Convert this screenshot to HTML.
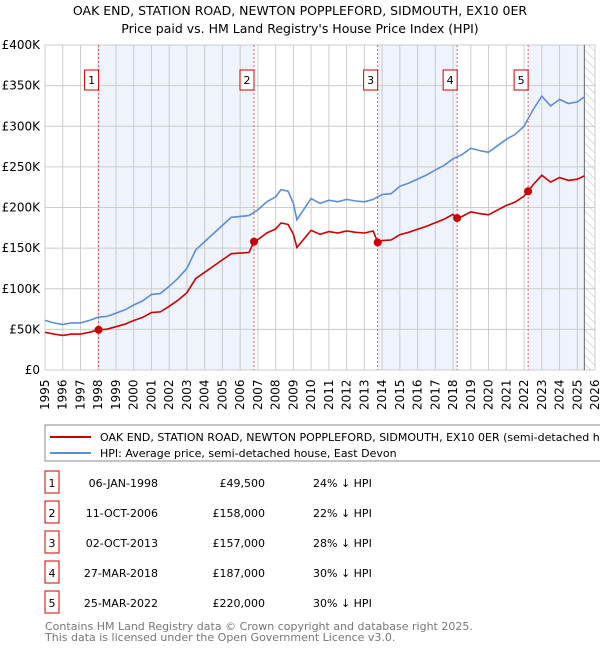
<!DOCTYPE html>
<html><head><meta charset="utf-8"><style>
body{margin:0;background:#fff;font-family:"DejaVu Sans","Liberation Sans",sans-serif;}
svg text{font-family:"DejaVu Sans","Liberation Sans",sans-serif;}
</style></head><body>
<svg id="c" width="600" height="650" viewBox="0 0 600 650" xmlns="http://www.w3.org/2000/svg">
<defs><pattern id="hatch" width="6" height="6" patternUnits="userSpaceOnUse" patternTransform="rotate(-45)"><line x1="0" y1="0" x2="0" y2="6" stroke="#bbb" stroke-width="1"/></pattern></defs>
<text x="300" y="15" text-anchor="middle" font-size="12.5">OAK END, STATION ROAD, NEWTON POPPLEFORD, SIDMOUTH, EX10 0ER</text>
<text x="300" y="33" text-anchor="middle" font-size="12.5">Price paid vs. HM Land Registry's House Price Index (HPI)</text>
<g id="plot"></g>
<rect x="45" y="425" width="570" height="36" fill="#fff" stroke="#888"/>
<line x1="50" y1="437" x2="91" y2="437" stroke="#cc0000" stroke-width="2"/>
<text x="100" y="441" font-size="11">OAK END, STATION ROAD, NEWTON POPPLEFORD, SIDMOUTH, EX10 0ER (semi-detached house)</text>
<line x1="50" y1="453" x2="91" y2="453" stroke="#5b8ed6" stroke-width="2"/>
<text x="100" y="457" font-size="11">HPI: Average price, semi-detached house, East Devon</text>
<g id="table"></g>
<text x="45" y="630" font-size="11" fill="#777">Contains HM Land Registry data © Crown copyright and database right 2025.</text>
<text x="45" y="641" font-size="11" fill="#777">This data is licensed under the Open Government Licence v3.0.</text>
</svg>
<script>
const hpiYears=[1995,1995.5,1996,1996.5,1997,1997.5,1998,1998.5,1999,1999.5,2000,2000.5,2001,2001.5,2002,2002.5,2003,2003.5,2004,2004.5,2005,2005.5,2006,2006.5,2007,2007.5,2008,2008.3,2008.7,2009,2009.2,2009.6,2010,2010.5,2011,2011.5,2012,2012.5,2013,2013.5,2014,2014.5,2015,2015.5,2016,2016.5,2017,2017.5,2018,2018.5,2019,2019.5,2020,2020.5,2021,2021.5,2022,2022.5,2023,2023.5,2024,2024.5,2025,2025.4];
const hpiValues=[61,58,56,58,58,61,65,66,70,74,80,85,93,94,103,113,125,148,158,168,178,188,189,190,197,207,213,222,220,205,185,198,211,205,209,207,210,208,207,210,216,217,226,230,235,240,246,252,260,265,273,270,268,276,284,290,300,320,337,325,333,328,330,336];
const saleDates=[1998.02,2006.78,2013.75,2018.23,2022.23];
const salePrices=[49.5,158,157,187,220];
const saleLabels=["1","2","3","4","5"];
const saleDateText=["06-JAN-1998","11-OCT-2006","02-OCT-2013","27-MAR-2018","25-MAR-2022"];
const salePriceText=["£49,500","£158,000","£157,000","£187,000","£220,000"];
const saleHpiText=["24% ↓ HPI","22% ↓ HPI","28% ↓ HPI","30% ↓ HPI","30% ↓ HPI"];
const yTicks=[0,50,100,150,200,250,300,350,400];
const yTickLabels=["£0","£50K","£100K","£150K","£200K","£250K","£300K","£350K","£400K"];
const xTicks=[1995,1996,1997,1998,1999,2000,2001,2002,2003,2004,2005,2006,2007,2008,2009,2010,2011,2012,2013,2014,2015,2016,2017,2018,2019,2020,2021,2022,2023,2024,2025,2026];
const dataEnd=2025.4;

const NS="http://www.w3.org/2000/svg";
const X0=45,X1=595,Y0=370,Y1=45;
const xs=y=>X0+(y-1995)/(2026-1995)*(X1-X0);
const ys=v=>Y0-v/400*(Y0-Y1);
const plot=document.getElementById('plot');
function mk(tag,attrs,parent){const e=document.createElementNS(NS,tag);for(const k in attrs)e.setAttribute(k,attrs[k]);(parent||plot).appendChild(e);return e;}
function hpiAt(t){for(let i=0;i<hpiYears.length-1;i++){if(t<=hpiYears[i+1]){const f=(t-hpiYears[i])/(hpiYears[i+1]-hpiYears[i]);return hpiValues[i]+f*(hpiValues[i+1]-hpiValues[i]);}}return hpiValues[hpiValues.length-1];}
// shaded bands
const bands=[[0,1],[2,3],[4,null]];
bands.forEach((b,i)=>{const a=xs(saleDates[b[0]]),e=b[1]===null?xs(dataEnd):xs(saleDates[b[1]]);
 const r=mk('rect',{x:a,y:Y1,width:e-a,height:Y0-Y1,fill:'#eef3fc'});
 
 });
// hatch
const h=mk('rect',{x:xs(dataEnd),y:Y1,width:X1-xs(dataEnd),height:Y0-Y1,fill:'url(#hatch)'});


// grid
yTicks.forEach((v,i)=>{const g=mk('line',{x1:X0,x2:X1,y1:ys(v),y2:ys(v),stroke:'#ccc'});
 
 
 const t=mk('text',{x:40,y:ys(v)+4,'text-anchor':'end','font-size':'12'});t.textContent=yTickLabels[i];
 
 });
xTicks.forEach(y=>{const g=mk('line',{x1:xs(y),x2:xs(y),y1:Y1,y2:Y0,stroke:'#ccc'});
 
 
 const t=mk('text',{x:0,y:0,'font-size':'12',transform:`translate(${xs(y)+4},410) rotate(-90)`});t.textContent=y;
 
 });
const ln=mk('line',{x1:xs(dataEnd),x2:xs(dataEnd),y1:Y1,y2:Y0,stroke:'#666'});


// sale vlines + labels
saleDates.forEach((d,i)=>{const l=mk('line',{x1:xs(d),x2:xs(d),y1:Y1,y2:Y0,stroke:'#e06060','stroke-dasharray':'2,2'});
 
 
 const r=mk('rect',{x:xs(d)-14,y:70,width:14,height:20,fill:'#fff',stroke:'#cc0000'});
 
 
 const t=mk('text',{x:xs(d)-7,y:84,'text-anchor':'middle','font-size':'11'});t.textContent=saleLabels[i];
 
 });
// hpi line
let p='';hpiYears.forEach((y,i)=>{p+=(i?'L':'M')+xs(y).toFixed(1)+','+ys(hpiValues[i]).toFixed(1);});
const hl=mk('path',{d:p,fill:'none',stroke:'#5b8ed6','stroke-width':1.6});


// price line: indexed from each sale
function factorAt(t){let k=0;for(let i=0;i<saleDates.length;i++)if(t>=saleDates[i])k=i;return salePrices[k]/hpiAt(saleDates[k]);}
const pts=[...hpiYears,...saleDates].sort((a,b)=>a-b);
let q='';pts.forEach((t,i)=>{q+=(i?'L':'M')+xs(t).toFixed(1)+','+ys(hpiAt(t)*factorAt(t)).toFixed(1);});
const pl=mk('path',{d:q,fill:'none',stroke:'#cc0000','stroke-width':1.6});


saleDates.forEach((d,i)=>{const c=mk('circle',{cx:xs(d),cy:ys(salePrices[i]),r:4,fill:'#cc0000'});
 
 });
// table
const tb=document.getElementById('table');
saleDates.forEach((d,i)=>{const y=483+i*30;
 const r=mk('rect',{x:45,y:y-12,width:14,height:22,fill:'#fff',stroke:'#cc0000'},tb);
 
 
 const a=mk('text',{x:52,y:y+4,'text-anchor':'middle','font-size':'11'},tb);a.textContent=saleLabels[i];
 
 
 const b=mk('text',{x:158,y:y+4,'text-anchor':'end','font-size':'11'},tb);b.textContent=saleDateText[i];
 
 
 const c=mk('text',{x:265,y:y+4,'text-anchor':'end','font-size':'11'},tb);c.textContent=salePriceText[i];
 
 
 const e=mk('text',{x:313,y:y+4,'font-size':'11'},tb);e.textContent=saleHpiText[i];
 
 });
</script>
</body></html>
